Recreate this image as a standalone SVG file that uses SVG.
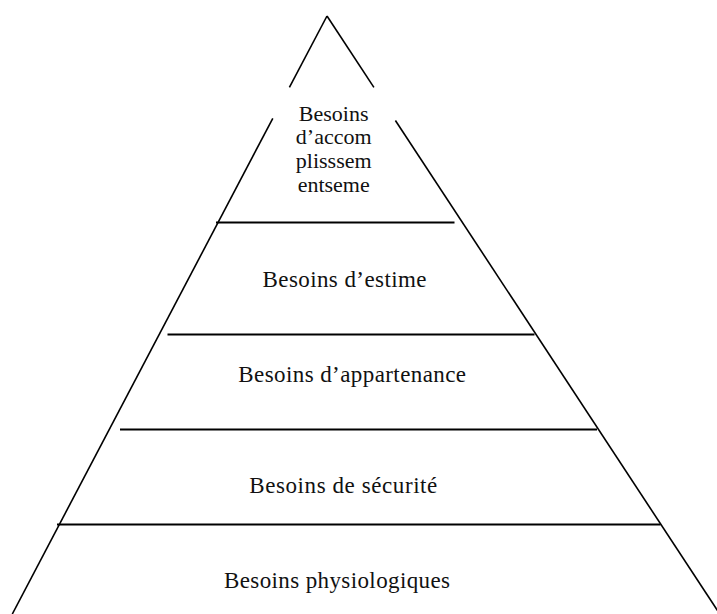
<svg xmlns="http://www.w3.org/2000/svg" width="717" height="614" viewBox="0 0 717 614">
  <style>
    .edge { stroke: #000; stroke-width: 1.6; fill: none; stroke-linecap: butt; }
    .div { stroke: #000; stroke-width: 2; fill: none; }
    .lbl { font-family: "Liberation Serif", "Times New Roman", serif; font-size: 23px; fill: #111; text-anchor: middle; }
    .top { font-size: 22px; }
  </style>
  <rect width="717" height="614" fill="#fff"/>
  <g id="connectors">
    <line class="edge" x1="327" y1="16" x2="289.4" y2="87.4"/>
    <line class="edge" x1="327" y1="16" x2="373.9" y2="87.4"/>
    <line class="edge" x1="272.8" y1="118.3" x2="12.3" y2="614"/>
    <line class="edge" x1="395.4" y1="120.5" x2="719.8" y2="614"/>
    <line class="div" x1="216" y1="222.5" x2="454.5" y2="222.5"/>
    <line class="div" x1="167.5" y1="334.5" x2="534.5" y2="334.5"/>
    <line class="div" x1="120" y1="429.5" x2="597" y2="429.5"/>
    <line class="div" x1="57" y1="524.5" x2="660.5" y2="524.5"/>
  </g>
  <g id="accomplissement">
    <text class="lbl top" x="333.7" y="120.7">Besoins</text>
    <text class="lbl top" x="333.7" y="144.3">d’accom</text>
    <text class="lbl top" x="333.7" y="167.7">plisssem</text>
    <text class="lbl top" x="333.7" y="192">entseme</text>
  </g>
  <g id="estime">
    <text class="lbl" x="344.5" y="286.7" textLength="164" lengthAdjust="spacing">Besoins d’estime</text>
  </g>
  <g id="appartenance">
    <text class="lbl" x="352.2" y="382.3" textLength="227.7" lengthAdjust="spacing">Besoins d’appartenance</text>
  </g>
  <g id="securite">
    <text class="lbl" x="343.3" y="493" textLength="188" lengthAdjust="spacing">Besoins de sécurité</text>
  </g>
  <g id="physiologiques">
    <text class="lbl" x="337" y="588" textLength="226" lengthAdjust="spacing">Besoins physiologiques</text>
  </g>
</svg>
